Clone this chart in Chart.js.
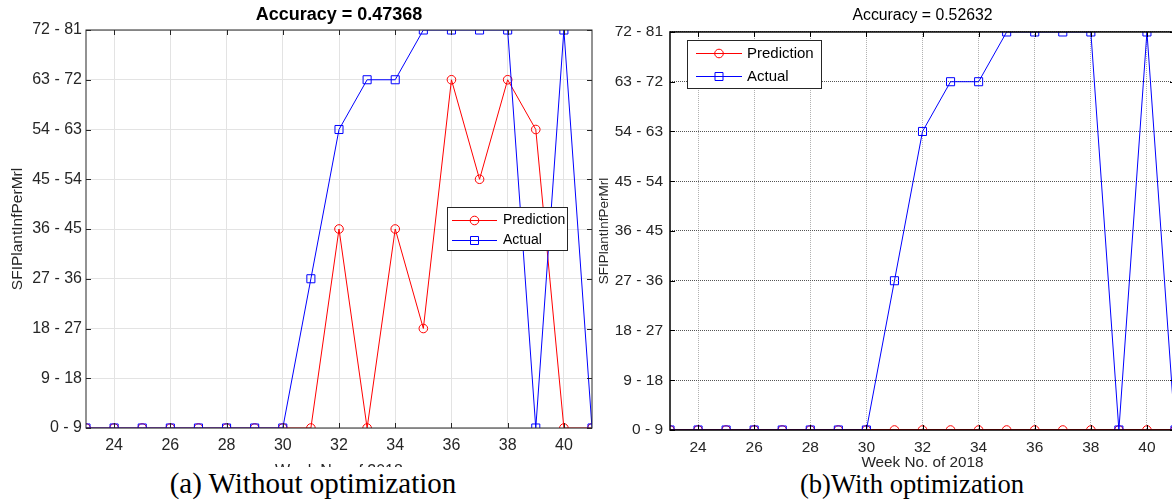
<!DOCTYPE html>
<html>
<head>
<meta charset="utf-8">
<script src="https://cdn.jsdelivr.net/npm/chart.js"></script>
<style>
  html, body { margin: 0; padding: 0; background: #fff; overflow: hidden; }
  body { width: 1172px; height: 502px; position: relative; }
  canvas { position: absolute; top: 0; }
  #chart-a { left: 0; }
  #chart-b { left: 585px; }
  .caption {
    position: absolute; top: 467px; height: 35px; box-sizing: border-box;
    background: #fff; text-align: center; white-space: nowrap;
    font-family: 'Liberation Serif', 'Times New Roman', serif; line-height: 30px; color: #000;
  }
  #cap-a { left: 18px; width: 590px; font-size: 29px; padding-top: 1px; }
  #cap-b { left: 634px; width: 556px; font-size: 26.6px; padding-top: 2px; }
</style>
</head>
<body>
<canvas id="chart-a" width="600" height="500"></canvas>
<canvas id="chart-b" width="620" height="500"></canvas>
<div class="caption" id="cap-a">(a) Without optimization</div>
<div class="caption" id="cap-b">(b)With optimization</div>
<script>
// weeks of 2018 on the x axis
const weeks = [23, 24, 25, 26, 27, 28, 29, 30, 31, 32, 33, 34, 35, 36, 37, 38, 39, 40, 41];
const xTicks = [24, 26, 28, 30, 32, 34, 36, 38, 40];
// class index -> range label
const yLabels = ['0 - 9', '9 - 18', '18 - 27', '27 - 36', '36 - 45', '45 - 54', '54 - 63', '63 - 72', '72 - 81'];
const yTicks = [0, 1, 2, 3, 4, 5, 6, 7, 8];

const actual = [0, 0, 0, 0, 0, 0, 0, 0, 3, 6, 7, 7, 8, 8, 8, 8, 0, 8, 0];
const predictionA = [0, 0, 0, 0, 0, 0, 0, 0, 0, 4, 0, 4, 2, 7, 5, 7, 6, 0, 0];
const predictionB = [0, 0, 0, 0, 0, 0, 0, 0, 0, 0, 0, 0, 0, 0, 0, 0, 0, 0, 0];

const titleA = 'Accuracy = 0.47368';
const titleB = 'Accuracy = 0.52632';
const xTitle = 'Week No. of 2018';
const yTitle = 'SFIPlantInfPerMrl';

Chart.defaults.font.family = "'Liberation Sans', Arial, sans-serif";
Chart.defaults.color = '#262626';

function toPoints(arr) {
  return weeks.map((w, i) => ({ x: w, y: arr[i] }));
}

// box around the plot area with inward tick marks
const framePlugin = {
  id: 'frame',
  afterDraw(chart, args, opts) {
    const { ctx, chartArea: a, scales } = chart;
    ctx.save();
    ctx.strokeStyle = opts.color;
    ctx.lineWidth = opts.width;
    ctx.strokeRect(a.left, a.top, a.right - a.left, a.bottom - a.top);
    ctx.lineWidth = 1;
    ctx.beginPath();
    xTicks.forEach(t => {
      const x = Math.round(scales.x.getPixelForValue(t)) + 0.5;
      ctx.moveTo(x, a.bottom); ctx.lineTo(x, a.bottom - opts.tick);
      ctx.moveTo(x, a.top); ctx.lineTo(x, a.top + opts.tick);
    });
    yTicks.forEach(t => {
      const y = Math.round(scales.y.getPixelForValue(t)) + 0.5;
      ctx.moveTo(a.left, y); ctx.lineTo(a.left + opts.tick, y);
      ctx.moveTo(a.right, y); ctx.lineTo(a.right - opts.tick, y);
    });
    ctx.stroke();
    ctx.restore();
  }
};

// x axis title, centred under the plot at a fixed height
const xTitlePlugin = {
  id: 'xTitle',
  afterDraw(chart, args, opts) {
    const { ctx, chartArea: a } = chart;
    ctx.save();
    ctx.font = opts.size + "px 'Liberation Sans', Arial, sans-serif";
    ctx.fillStyle = '#262626';
    ctx.textAlign = 'center';
    ctx.textBaseline = 'alphabetic';
    ctx.fillText(opts.text, (a.left + a.right) / 2, opts.y);
    ctx.restore();
  }
};

// MATLAB-like legend box inside the axes
const boxLegendPlugin = {
  id: 'boxLegend',
  afterDraw(chart, args, opts) {
    const ctx = chart.ctx;
    const [bx, by, bw, bh] = opts.box;
    ctx.save();
    ctx.fillStyle = '#fff';
    ctx.fillRect(bx, by, bw, bh);
    ctx.strokeStyle = '#262626';
    ctx.lineWidth = 1;
    ctx.strokeRect(bx + 0.5, by + 0.5, bw, bh);
    ctx.font = opts.size + "px 'Liberation Sans', Arial, sans-serif";
    ctx.textBaseline = 'middle';
    opts.items.forEach((idx, row) => {
      const ds = chart.data.datasets[idx];
      const y = opts.rows[row] + 0.5;
      const mx = (opts.line[0] + opts.line[1]) / 2;
      ctx.strokeStyle = ds.borderColor;
      ctx.lineWidth = 1;
      ctx.beginPath();
      ctx.moveTo(opts.line[0], y);
      ctx.lineTo(opts.line[1], y);
      ctx.stroke();
      ctx.beginPath();
      if (ds.pointStyle === 'rect') {
        ctx.rect(mx - 4, y - 4, 8, 8);
      } else {
        ctx.arc(mx, y, 4.3, 0, Math.PI * 2);
      }
      ctx.stroke();
      ctx.fillStyle = '#000';
      ctx.fillText(ds.label, opts.text, y);
    });
    ctx.restore();
  }
};

function makeChart(id, cfg) {
  return new Chart(document.getElementById(id), {
    type: 'line',
    data: {
      datasets: [{
        label: 'Prediction',
        data: toPoints(cfg.prediction),
        borderColor: '#ff0000',
        backgroundColor: 'rgba(0,0,0,0)',
        borderWidth: cfg.predWidth,
        pointStyle: 'circle',
        pointRadius: 4.3,
        pointBorderWidth: 1,
        pointBackgroundColor: 'rgba(0,0,0,0)',
        tension: 0,
        order: 1
      }, {
        label: 'Actual',
        data: toPoints(actual),
        borderColor: '#0000ff',
        backgroundColor: 'rgba(0,0,0,0)',
        borderWidth: 1,
        pointStyle: 'rect',
        pointRadius: 5.7,
        pointBorderWidth: 1,
        pointBackgroundColor: 'rgba(0,0,0,0)',
        tension: 0,
        order: 0
      }]
    },
    options: {
      responsive: false,
      animation: false,
      devicePixelRatio: 1,
      layout: { padding: { left: 0, right: cfg.padRight, top: 0, bottom: 0 } },
      plugins: {
        legend: { display: false },
        tooltip: { enabled: false },
        title: {
          display: true,
          text: cfg.title,
          fullSize: false,
          color: '#000',
          font: { size: cfg.titleSize, weight: cfg.titleWeight },
          padding: cfg.titlePad
        },
        frame: cfg.frame,
        xTitle: cfg.xTitle,
        boxLegend: cfg.legend
      },
      scales: {
        x: {
          type: 'linear',
          min: 23,
          max: 41,
          afterBuildTicks: s => { s.ticks = xTicks.map(v => ({ value: v })); },
          afterFit: s => { s.height = cfg.xHeight; },
          ticks: { font: { size: cfg.tickSize }, padding: 8, maxRotation: 0 },
          grid: { color: cfg.xGrid, drawTicks: false, lineWidth: 1 },
          border: { display: false, dash: cfg.dash }
        },
        y: {
          type: 'linear',
          min: 0,
          max: 8,
          afterBuildTicks: s => { s.ticks = yTicks.map(v => ({ value: v })); },
          afterFit: s => { s.width = cfg.yWidth; },
          ticks: { font: { size: cfg.tickSize }, padding: cfg.yTickPad, callback: v => yLabels[v] },
          grid: { color: cfg.yGrid, drawTicks: false, lineWidth: 1 },
          border: { display: false, dash: cfg.dash },
          title: { display: true, text: yTitle, font: { size: cfg.yTitleSize }, padding: { top: cfg.yTitlePad, bottom: 0 } }
        }
      }
    },
    plugins: [framePlugin, xTitlePlugin, boxLegendPlugin]
  });
}

makeChart('chart-a', {
  prediction: predictionA,
  predWidth: 1,
  title: titleA,
  titleSize: 18,
  titleWeight: 'bold',
  titlePad: { top: 4, bottom: 4.4 },
  padRight: 8,
  xHeight: 72,
  yWidth: 86,
  tickSize: 16,
  yTickPad: 4,
  yTitleSize: 15.5,
  yTitlePad: 8,
  xGrid: '#e3e3e3',
  yGrid: '#e3e3e3',
  dash: [],
  frame: { color: '#262626', width: 1, tick: 5 },
  xTitle: { text: xTitle, y: 476, size: 16 },
  legend: { box: [447, 207, 120, 43], line: [452, 497], text: 503, rows: [220, 240], items: [0, 1], size: 14 }
});

makeChart('chart-b', {
  prediction: predictionB,
  predWidth: 2,
  title: titleB,
  titleSize: 15.8,
  titleWeight: 'normal',
  titlePad: { top: 6.5, bottom: 6.5 },
  padRight: 30,
  xHeight: 70,
  yWidth: 85,
  tickSize: 15.5,
  yTickPad: 7,
  yTitleSize: 13.5,
  yTitlePad: 11,
  xGrid: '#b0b0b0',
  yGrid: '#555555',
  dash: [1, 1],
  frame: { color: '#000', width: 1.5, tick: 5 },
  xTitle: { text: xTitle, y: 467, size: 15.3 },
  legend: { box: [102, 40, 134, 48], line: [111, 157], text: 162, rows: [53, 76], items: [0, 1], size: 15 }
});
</script>
</body>
</html>
